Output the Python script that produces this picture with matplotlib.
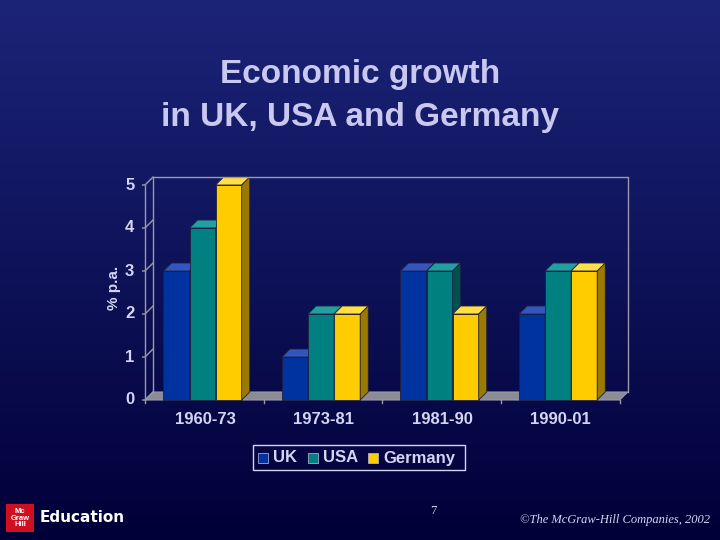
import matplotlib
matplotlib.use("Agg")
import matplotlib.pyplot as plt
import numpy as np
from matplotlib.patches import Polygon, Rectangle

categories = ["1960-73", "1973-81", "1981-90", "1990-01"]
uk = [3, 1, 3, 2]
usa = [4, 2, 3, 3]
germany = [5, 2, 2, 3]
series = [("UK", uk), ("USA", usa), ("Germany", germany)]
colors = {"UK": ("#0033A0", "#3355C0", "#001a60"),
          "USA": ("#008080", "#20A0A0", "#005050"),
          "Germany": ("#FFCC00", "#FFE040", "#9A7A00")}
txt = "#D4D4F4"

fig = plt.figure(figsize=(7.2, 5.4), dpi=100)
bg = fig.add_axes([0, 0, 1, 1])
grad = np.linspace(0, 1, 256).reshape(-1, 1)
from matplotlib.colors import LinearSegmentedColormap
cm = LinearSegmentedColormap.from_list("g", ["#1c2478", "#000038"])
bg.imshow(grad, aspect="auto", cmap=cm, extent=[0, 1, 0, 1], origin="upper")
bg.axis("off")

fig.text(0.5, 0.862, "Economic growth", ha="center", va="center", color="#C8C8F0",
         fontsize=24, fontweight="bold", family="Liberation Sans")
fig.text(0.5, 0.783, "in UK, USA and Germany", ha="center", va="center", color="#C8C8F0",
         fontsize=24, fontweight="bold", family="Liberation Sans")

ax = fig.add_axes([145/720, 140/540, (628-145)/720, 215/540])
ax.set_xlim(-0.506, 3.57)
ax.set_ylim(0, 5)
ax.patch.set_alpha(0)
for s in ax.spines.values():
    s.set_visible(False)
ax.set_xticks([])
ax.set_yticks([])

dx, dy = 0.068, 0.186
x0, x1 = -0.506, 3.50
grey = "#9A9AA8"
# back wall + left wall
ax.plot([x0 + dx, x0 + dx, x1 + dx, x1 + dx], [dy, 5 + dy, 5 + dy, dy], color=grey, lw=1, clip_on=False)
ax.plot([x0, x0], [0, 5], color=grey, lw=1, clip_on=False)
for v in range(6):
    ax.plot([x0 - 0.02, x0, x0 + dx], [v, v, v + dy], color=grey, lw=1, clip_on=False)
    ax.text(x0 - 0.09, v, str(v), ha="right", va="center", color=txt, fontsize=12,
            fontweight="bold", family="Liberation Sans")
# floor
ax.add_patch(Polygon([[x0, 0], [x1, 0], [x1 + dx, dy], [x0 + dx, dy]], closed=True,
                     facecolor="#8C8C94", edgecolor=grey, lw=0.8, clip_on=False))
for i in range(5):
    xb = x0 + i * (x1 - x0) / 4
    ax.plot([xb, xb], [0, -0.08], color=grey, lw=1, clip_on=False)

w = 0.22
for gi, cat in enumerate(categories):
    for si, (name, vals) in enumerate(series):
        v = vals[gi]
        xl = gi + (si - 1) * w - w / 2 - 0.02
        front, top, side = colors[name]
        ax.add_patch(Rectangle((xl, 0), w, v, facecolor=front, edgecolor="#202040", lw=0.6, clip_on=False))
        ax.add_patch(Polygon([[xl, v], [xl + w, v], [xl + w + dx, v + dy], [xl + dx, v + dy]],
                             facecolor=top, edgecolor="#202040", lw=0.6, clip_on=False))
        ax.add_patch(Polygon([[xl + w, 0], [xl + w + dx, dy], [xl + w + dx, v + dy], [xl + w, v]],
                             facecolor=side, edgecolor="#202040", lw=0.6, clip_on=False))
    ax.text(gi, -0.45, cat, ha="center", va="center", color=txt, fontsize=12,
            fontweight="bold", family="Liberation Sans")

ax.text(-0.77, 2.5 + 0.1, "% p.a.", rotation=90, ha="center", va="center", color=txt,
        fontsize=11, fontweight="bold", family="Liberation Sans")

# legend
fig.patches.append(Rectangle((253/720, 1 - 470/540), (465-253)/720, 25/540, transform=fig.transFigure,
                             facecolor="none", edgecolor=txt, lw=1))
lx = 258
for name, _ in series:
    fig.patches.append(Rectangle((lx/720, 1 - 463/540), 10/720, 10/540, transform=fig.transFigure,
                                 facecolor=colors[name][0], edgecolor="#C0C0E0", lw=0.5))
    t = fig.text((lx + 15)/720, 1 - 458/540, name, ha="left", va="center", color=txt,
                 fontsize=12, fontweight="bold", family="Liberation Sans")
    lx += {"UK": 50, "USA": 60, "Germany": 0}[name]

# footer
fig.patches.append(Rectangle((6/720, 1 - 532/540), 28/720, 28/540, transform=fig.transFigure,
                             facecolor="#D01020", edgecolor="none"))
fig.text(20/720, 1 - 518/540, "Mc\nGraw\nHill", ha="center", va="center", color="white",
         fontsize=5.5, fontweight="bold", family="Liberation Sans", linespacing=0.9)
fig.text(40/720, 1 - 518/540, "Education", ha="left", va="center", color="white",
         fontsize=11, fontweight="bold", family="Liberation Sans Narrow")
fig.text(433/720, 1 - 511/540, "7", ha="center", va="center", color=txt, fontsize=9, family="Liberation Serif")
fig.text(710/720, 1 - 520/540, "©The McGraw-Hill Companies, 2002", ha="right", va="center",
         color=txt, fontsize=9, style="italic", family="Liberation Serif")

fig.savefig("out.png", dpi=100)
